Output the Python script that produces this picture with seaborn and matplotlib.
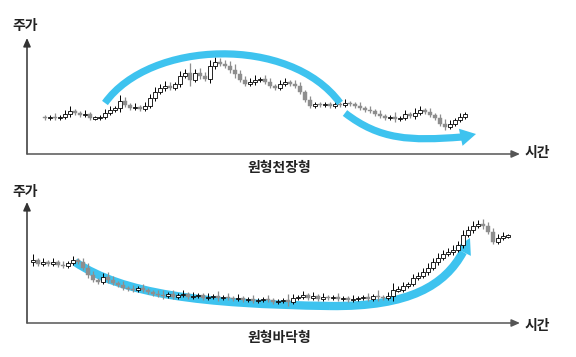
import numpy as np
import seaborn as sns
import matplotlib as mpl
mpl.use('Agg')
import matplotlib.pyplot as plt
from matplotlib.path import Path
from matplotlib.patches import PathPatch

sns.set_style('white')
plt.rcParams['font.family'] = ['Noto Sans CJK KR', 'DejaVu Sans']

# rounding top: closing prices, first open, wick lengths
top_close = [36, 37, 36, 37, 40, 43, 41, 39, 40, 36,
             36, 37, 41, 44, 46, 53, 49, 46, 47, 45,
             48, 56, 62, 66, 68, 66, 70, 78, 81, 74,
             81, 78, 75, 88, 92, 90, 88, 84, 80, 74,
             70, 72, 74, 75, 72, 68, 66, 70, 72, 70,
             68, 62, 54, 48, 50, 49, 50, 48, 50, 49,
             51, 50, 48, 46, 44, 43, 40, 38, 36, 37,
             35, 36, 40, 38, 41, 44, 42, 39, 36, 30,
             27, 30, 34, 37, 40]
top_open0 = 37
top_wick = [2, 2, 3, 2, 3, 4, 2, 2, 3, 2,
            2, 2, 3, 3, 2, 5, 3, 2, 3, 2,
            3, 3, 4, 3, 4, 3, 2, 4, 3, 8,
            3, 4, 3, 5, 4, 3, 3, 4, 5, 3,
            3, 3, 4, 2, 3, 3, 2, 3, 3, 2,
            3, 3, 2, 3, 2, 2, 2, 2, 3, 2,
            3, 2, 2, 3, 2, 3, 2, 3, 2, 2,
            4, 2, 3, 2, 4, 3, 2, 3, 2, 3,
            4, 3, 2, 3, 2]

# rounding bottom
bot_close = [63, 59, 61, 59, 61, 58, 57, 60, 63, 61,
             55, 48, 43, 41, 46, 43, 40, 38, 35, 34,
             33, 35, 33, 31, 29, 28, 27, 29, 26, 28,
             29, 26, 27, 28, 25, 26, 27, 25, 26, 25,
             24, 25, 23, 24, 22, 23, 24, 23, 21, 22,
             23, 21, 25, 26, 28, 25, 27, 24, 26, 25,
             26, 24, 25, 23, 24, 25, 26, 24, 27, 26,
             25, 27, 33, 33, 37, 39, 45, 47, 51, 55,
             61, 65, 69, 71, 73, 78, 88, 93, 97, 99,
             97, 91, 81, 85, 87, 87]
bot_open0 = 61
bot_wick = [5, 2, 3, 2, 3, 2, 3, 2, 3, 2,
            3, 4, 3, 2, 3, 4, 3, 2, 3, 2,
            3, 2, 3, 2, 2, 3, 4, 2, 3, 2,
            3, 2, 3, 2, 2, 3, 2, 4, 2, 3,
            2, 3, 2, 2, 3, 2, 2, 3, 2, 2,
            2, 5, 3, 2, 3, 2, 3, 2, 3, 2,
            2, 3, 2, 2, 3, 2, 2, 3, 2, 5,
            2, 3, 6, 3, 3, 2, 3, 3, 3, 4,
            3, 4, 3, 3, 4, 3, 4, 3, 4, 3,
            4, 3, 3, 3, 3, 2]

# blue guide curves (cubic bezier control points, data units)
top_arc = [(12, 51), (21, 114), (49, 119), (59, 51)]
top_fall = [(60, 41), (67, 14), (73, 13), (83.4, 17)]
top_tip = (86.2, 20)
bot_fall = [(8.4, 61), (18, 29), (33.4, 19), (59.4, 17)]
bot_rise = [(59.4, 17), (75.4, 16), (82.4, 38), (86, 71)]
bot_tip = (87.4, 85)

BLUE = '#3ec3ef'
GRAY = '#8e8e8e'


def candles(ax, close, open0, wick):
    close = np.array(close, dtype=float)
    opn = np.r_[open0, close[:-1]]
    x = np.arange(len(close))
    up = close >= opn
    lo = np.minimum(opn, close)
    hi = np.maximum(opn, close)
    w = np.array(wick)
    ax.vlines(x[up], lo[up] - w[up] * 0.8, hi[up] + w[up] * 1.2, color='black', lw=0.7, zorder=3)
    ax.vlines(x[~up], lo[~up] - w[~up] * 0.8, hi[~up] + w[~up] * 1.2, color=GRAY, lw=0.9, zorder=3)
    h = np.maximum(hi - lo, 1.6)
    ax.bar(x[up], h[up], bottom=lo[up] - (h[up] - (hi[up] - lo[up])) / 2, width=0.75,
           color='white', edgecolor='black', lw=0.6, zorder=4)
    ax.bar(x[~up], h[~up], bottom=lo[~up] - (h[~up] - (hi[~up] - lo[~up])) / 2, width=0.85,
           color=GRAY, edgecolor=GRAY, lw=0.3, zorder=4)


def bezier(ax, pts, lw, z):
    path = Path(pts, [Path.MOVETO, Path.CURVE4, Path.CURVE4, Path.CURVE4])
    ax.add_patch(PathPatch(path, fc='none', ec=BLUE, lw=lw, capstyle='butt', zorder=z))


def head(ax, start, tip, z):
    ax.annotate('', xy=tip, xytext=start,
                arrowprops=dict(arrowstyle='-|>,head_length=0.75,head_width=0.42',
                                color=BLUE, lw=0, mutation_scale=15,
                                shrinkA=0, shrinkB=0), zorder=z)


def frame(ax):
    for s in ax.spines.values():
        s.set_visible(False)
    ax.set_xticks([])
    ax.set_yticks([])
    ap = dict(arrowstyle='-|>,head_length=0.5,head_width=0.22', color='#333333',
              lw=1.1, mutation_scale=10, shrinkA=0, shrinkB=0)
    ax.annotate('', xy=(0, 1), xytext=(0, 0), xycoords='axes fraction', arrowprops=ap)
    ax.annotate('', xy=(1.004, 0), xytext=(0, 0), xycoords='axes fraction',
                arrowprops=dict(ap, color='#555555'))


fig = plt.figure(figsize=(5.76, 3.57), dpi=100)
W, H = 576, 357

ax1 = fig.add_axes([27 / W, 1 - 154 / H, (518 - 27) / W, (154 - 38) / H])
ax1.set_xlim(-3.6, 94.6)
ax1.set_ylim(0, 116)
candles(ax1, top_close, top_open0, top_wick)
bezier(ax1, top_arc, 5.2, 5)
bezier(ax1, top_fall, 5.2, 5)
head(ax1, top_fall[-1], top_tip, 5)
frame(ax1)

ax2 = fig.add_axes([27 / W, 1 - 323 / H, (518 - 27) / W, (323 - 202) / H])
ax2.set_xlim(-1.2, 97.0)
ax2.set_ylim(0, 121)
candles(ax2, bot_close, bot_open0, bot_wick)
bezier(ax2, bot_fall, 6, 2)
bezier(ax2, bot_rise, 6, 2)
head(ax2, bot_rise[-1], bot_tip, 2)
frame(ax2)

tk = dict(fontsize=10, fontweight='bold', color='#222222')
fig.text(12 / W, 1 - 26 / H, '주가', ha='left', va='center', **tk)
fig.text(525 / W, 1 - 153 / H, '시간', ha='left', va='center', **tk)
fig.text(279 / W, 1 - 168 / H, '원형천장형', ha='center', va='center', **tk)
fig.text(12 / W, 1 - 192 / H, '주가', ha='left', va='center', **tk)
fig.text(525 / W, 1 - 326 / H, '시간', ha='left', va='center', **tk)
fig.text(279 / W, 1 - 338 / H, '원형바닥형', ha='center', va='center', **tk)

fig.savefig('out.png', dpi=100)
